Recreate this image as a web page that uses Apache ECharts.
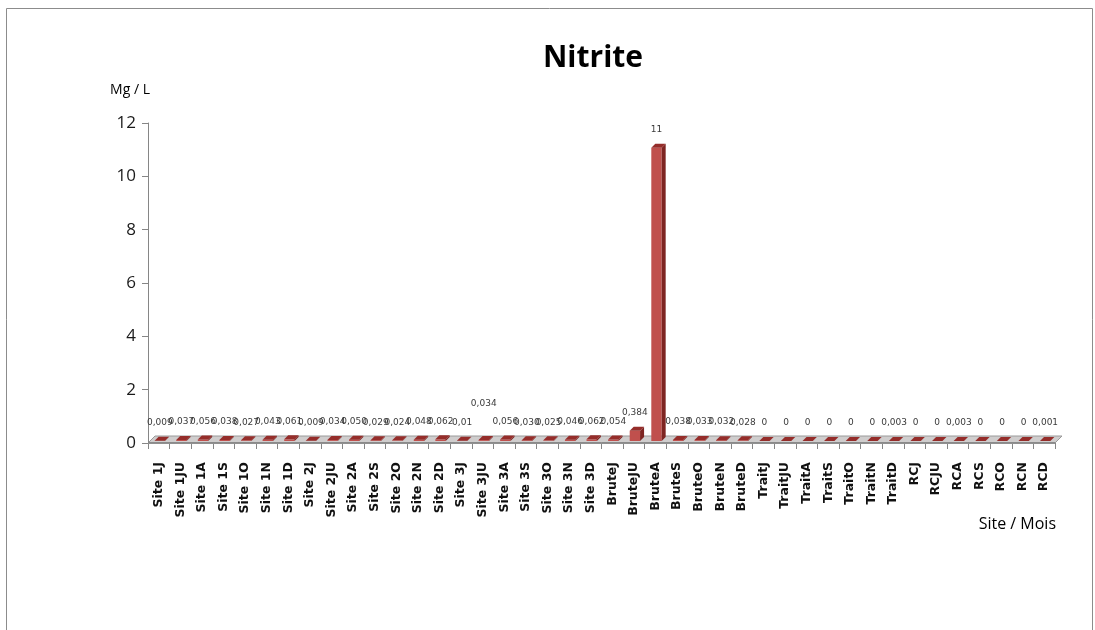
<!DOCTYPE html>
<html>
<head>
<meta charset="utf-8">
<script src="https://cdn.jsdelivr.net/npm/echarts@6/dist/echarts.min.js"></script>
<style>
  html, body { margin: 0; padding: 0; background: #ffffff; }
  #chart { width: 1095px; height: 630px; }
</style>
</head>
<body>
<div id="chart"></div>
<script>
// Sampling points: site + month code
const categories = [
  'Site 1J', 'Site 1JU', 'Site 1A', 'Site 1S', 'Site 1O', 'Site 1N', 'Site 1D',
  'Site 2J', 'Site 2JU', 'Site 2A', 'Site 2S', 'Site 2O', 'Site 2N', 'Site 2D',
  'Site 3J', 'Site 3JU', 'Site 3A', 'Site 3S', 'Site 3O', 'Site 3N', 'Site 3D',
  'BruteJ', 'BruteJU', 'BruteA', 'BruteS', 'BruteO', 'BruteN', 'BruteD',
  'TraitJ', 'TraitJU', 'TraitA', 'TraitS', 'TraitO', 'TraitN', 'TraitD',
  'RCJ', 'RCJU', 'RCA', 'RCS', 'RCO', 'RCN', 'RCD'
];

// Nitrite concentration (mg/L), written as printed on the labels
const nitriteText = [
  '0,009', '0,037', '0,056', '0,038', '0,027', '0,043', '0,061',
  '0,009', '0,034', '0,050', '0,029', '0,024', '0,048', '0,062',
  '0,01', '0,034', '0,056', '0,030', '0,025', '0,046', '0,062',
  '0,054', '0,384', '11', '0,038', '0,033', '0,032', '0,028',
  '0', '0', '0', '0', '0', '0', '0,003',
  '0', '0', '0,003', '0', '0', '0', '0,001'
];
const nitrite = nitriteText.map(s => parseFloat(s.replace(',', '.')));

const yTicks = [0, 2, 4, 6, 8, 10, 12];

// Label lifted above its neighbours to keep it readable
const raisedLabel = 'Site 3JU';

const DEPTH = 4;
const colors = {
  front: '#C0504D',
  side: '#7E2522',
  top: '#952D2A',
  floorTop: '#CFCDCD',
  floorFront: '#9a9a9a',
  label: '#3a3a3a'
};

function renderFloor(params, api) {
  const band = api.size([1, 0])[0];
  const a = api.coord([0, 0]);
  const b = api.coord([categories.length - 1, 0]);
  const xl = a[0] - band / 2, xr = b[0] + band / 2, y = a[1];
  const d = 7;
  return {
    type: 'group',
    children: [
      {
        type: 'polygon',
        shape: { points: [[xl, y], [xl + d, y - d], [xr + d, y - d], [xr, y]] },
        style: { fill: colors.floorTop, stroke: colors.floorFront, lineWidth: 1 }
      },
      {
        type: 'line',
        shape: { x1: xl, y1: y - 0.5, x2: xr, y2: y - 0.5 },
        style: { stroke: '#8a8a8a', lineWidth: 1 }
      }
    ]
  };
}

function renderBar(params, api) {
  const i = api.value(0);
  const v = api.value(1);
  const base = api.coord([i, 0]);
  const top = api.coord([i, v]);
  const band = api.size([1, 0])[0];
  const w = band * 0.48;
  const x0 = base[0] - w / 2 + 1;
  const yb = base[1] - 2;
  const yt = top[1] - 2;
  const d = DEPTH;
  const lift = categories[i] === raisedLabel ? 18 : 0;
  return {
    type: 'group',
    children: [
      {
        type: 'rect',
        shape: { x: x0, y: yt, width: w, height: Math.max(yb - yt, 0) },
        style: { fill: colors.front }
      },
      {
        type: 'polygon',
        shape: { points: [[x0 + w, yt], [x0 + w + d, yt - d], [x0 + w + d, yb - d], [x0 + w, yb]] },
        style: { fill: colors.side }
      },
      {
        type: 'polygon',
        shape: { points: [[x0, yt], [x0 + d, yt - d], [x0 + w + d, yt - d], [x0 + w, yt]] },
        style: { fill: colors.top }
      },
      {
        type: 'text',
        x: base[0] + 1,
        y: yt - 18 - lift,
        style: {
          text: nitriteText[i],
          fill: colors.label,
          font: '9px "DejaVu Sans"',
          align: 'center',
          verticalAlign: 'middle'
        }
      }
    ]
  };
}

const chart = echarts.init(document.getElementById('chart'), null, { renderer: 'canvas' });

chart.setOption({
  backgroundColor: '#ffffff',
  animation: false,
  title: {
    text: 'Nitrite',
    left: 588,
    top: 38,
    textAlign: 'center',
    textStyle: { fontFamily: 'Open Sans', fontSize: 30, fontWeight: 'bold', color: '#000000' }
  },
  graphic: [
    {
      type: 'rect',
      shape: { x: 6.5, y: 8.5, width: 1086, height: 640 },
      style: { fill: 'none', stroke: '#8c8c8c', lineWidth: 1 },
      silent: true
    },
    {
      type: 'text',
      right: 39,
      top: 516,
      style: { text: 'Site / Mois', font: '16px "Open Sans"', fill: '#000000' }
    }
  ],
  grid: { left: 148, right: 40, top: 123, bottom: 187, containLabel: false },
  xAxis: {
    type: 'category',
    data: categories,
    boundaryGap: true,
    axisLine: { show: true, lineStyle: { color: '#868686' } },
    axisTick: { show: true, interval: 0, length: 6, lineStyle: { color: '#868686' } },
    axisLabel: {
      interval: 0,
      rotate: 90,
      margin: 19,
      fontFamily: 'DejaVu Sans',
      fontWeight: 'bold',
      fontSize: 12.5,
      color: '#111111'
    }
  },
  yAxis: {
    type: 'value',
    min: yTicks[0],
    max: yTicks[yTicks.length - 1],
    interval: 2,
    name: 'Mg / L',
    nameLocation: 'end',
    nameGap: 26,
    nameTextStyle: { fontFamily: 'Open Sans', fontSize: 14, color: '#000000', align: 'center', padding: [0, 36, 0, 0] },
    axisLine: { show: true, lineStyle: { color: '#868686' } },
    axisTick: { show: true, length: 6, lineStyle: { color: '#868686' } },
    axisLabel: { fontFamily: 'Open Sans', fontSize: 17, color: '#1a1a1a', margin: 12 },
    splitLine: { show: false }
  },
  series: [
    {
      type: 'custom',
      name: 'floor',
      renderItem: renderFloor,
      data: [[0, 0]],
      encode: { x: 0, y: 1 },
      z: 1,
      silent: true,
      clip: false
    },
    {
      type: 'custom',
      name: 'Nitrite',
      renderItem: renderBar,
      data: categories.map((c, i) => [i, nitrite[i]]),
      encode: { x: 0, y: 1 },
      z: 2,
      clip: false
    }
  ]
});
</script>
</body>
</html>
